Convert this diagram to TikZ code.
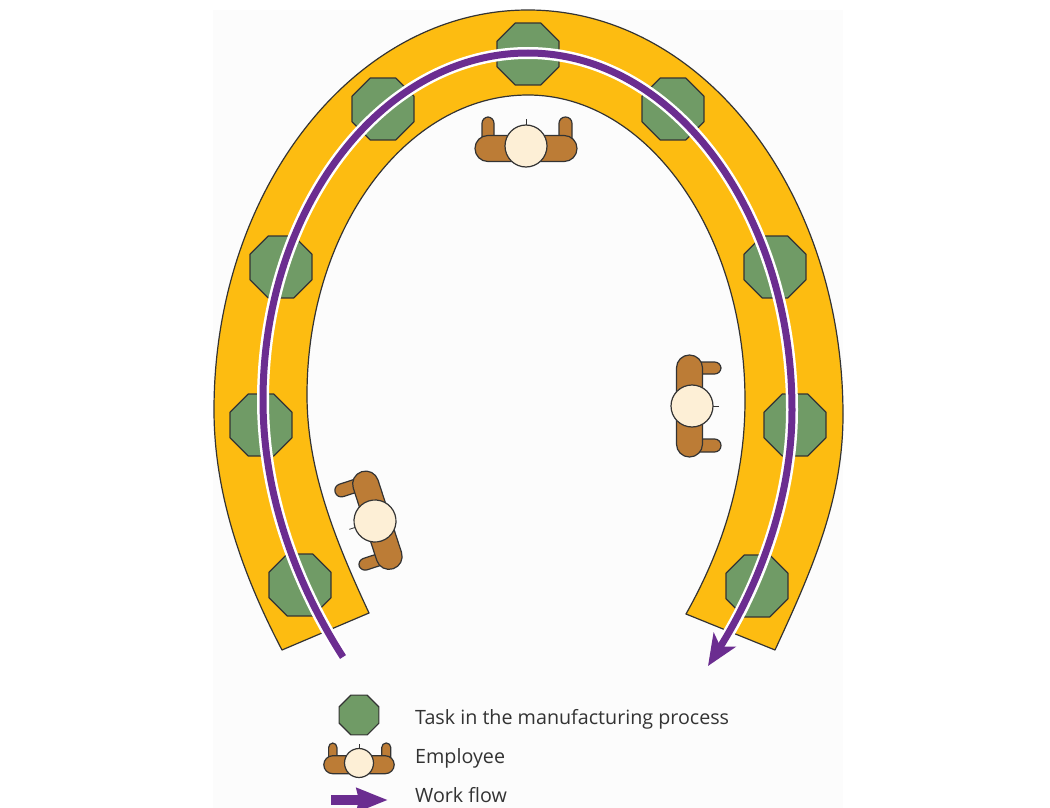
\documentclass[tikz,border=0pt]{standalone}
\usepackage{fontspec}
\setmainfont{Open Sans}
\usetikzlibrary{arrows.meta,shapes.geometric}
\definecolor{shoeyellow}{HTML}{FDBC11}
\definecolor{taskgreen}{HTML}{709B66}
\definecolor{bodybrown}{HTML}{BC7C36}
\definecolor{headcream}{HTML}{FDEFD6}
\definecolor{flowpurple}{HTML}{6B2D90}
\definecolor{outline}{HTML}{333333}
\definecolor{panel}{HTML}{FCFCFC}
\def\cornerscale{1}
\tikzset{
  task/.style={draw=outline,fill=taskgreen,line width=1.2pt,regular polygon,regular polygon sides=8,minimum size=#1,inner sep=0pt,outer sep=0pt},
  task/.default=67pt,
  legend text/.style={anchor=base west,inner sep=0pt,font=\fontsize{19.7}{22}\selectfont,text=black!80},
  employee/.pic={
    \draw[outline,fill=bodybrown,line width=1.2pt,rounded corners=\cornerscale*6.4pt] (-44,0)--(-44,-29)--(-32,-29)--(-32,0);
    \draw[outline,fill=bodybrown,line width=1.2pt,rounded corners=\cornerscale*6.4pt] (33,0)--(33,-29)--(46,-29)--(46,0);
    \draw[outline,fill=bodybrown,line width=1.2pt,rounded corners=\cornerscale*12.9pt] (-51,-10.5) rectangle (51,15.5);
    \draw[outline,line width=.8pt] (0,-27)--(0,-21);
    \draw[outline,fill=headcream,line width=1.2pt] (0,0) circle (21);
  }
}
\begin{document}
\begin{tikzpicture}[x=1pt,y=-1pt,line join=round]
\useasboundingbox (0,0) rectangle (1050,808);
\fill[panel] (213,10) rectangle (843,808);
% horseshoe
\draw[outline,fill=shoeyellow,line width=1.2pt] (282,650) .. controls (240,570) and (214,490) .. (214,410)
  .. controls (214,189) and (355,10) .. (528,10)
  .. controls (702,10) and (843,191) .. (843,415)
  .. controls (843,500) and (812,570) .. (775,650)
  -- (686,614)
  .. controls (722,550) and (745,480) .. (745,400)
  .. controls (745,234) and (648,95) .. (528,95)
  .. controls (406,95) and (307,230) .. (307,395)
  .. controls (307,470) and (335,540) .. (369,613) -- cycle;
% tasks
\node[task] (task1) at (528,54) {};
\node[task] (task2) at (383,109) {};
\node[task] (task3) at (673,109) {};
\node[task] (task4) at (281,267) {};
\node[task] (task5) at (775,267) {};
\node[task] (task6) at (261,425) {};
\node[task] (task7) at (795,425) {};
\node[task] (task8) at (300,585) {};
\node[task] (task9) at (757,586) {};
% flow
\draw[white,line width=12pt,shorten >=25pt] (343,657) .. controls (300,590) and (263,500) .. (263,400)
  .. controls (263,208) and (382,53) .. (528,53)
  .. controls (674,53) and (792,213) .. (792,410)
  .. controls (792,510) and (750,600) .. (708,666);
\draw[flowpurple,line width=7pt,-{Stealth[length=31pt,width=26pt,inset=8pt]}] (343,657) .. controls (300,590) and (263,500) .. (263,400)
  .. controls (263,208) and (382,53) .. (528,53)
  .. controls (674,53) and (792,213) .. (792,410)
  .. controls (792,510) and (750,600) .. (708,666);
% employees
\pic at (526,146) {employee};
\pic[rotate=-90] at (692,406) {employee};
\pic[rotate=108] at (375,521) {employee};
% legend
\node[task=43pt] (legendtask) at (359,715) {};
\def\cornerscale{.69}
\pic[scale=.69] at (359,763) {employee};
\coordinate (flowstart) at (331,800);
\coordinate (flowend) at (388,800);
\draw[flowpurple,line width=10pt,-{Stealth[length=31pt,width=23pt,inset=2pt]}] (flowstart)--(flowend);
\node[legend text] (tasklabel) at (415,724) {Task in the manufacturing process};
\node[legend text] (employeelabel) at (415,763) {Employee};
\node[legend text] (flowlabel) at (415,802) {Work flow};
\end{tikzpicture}
\end{document}
